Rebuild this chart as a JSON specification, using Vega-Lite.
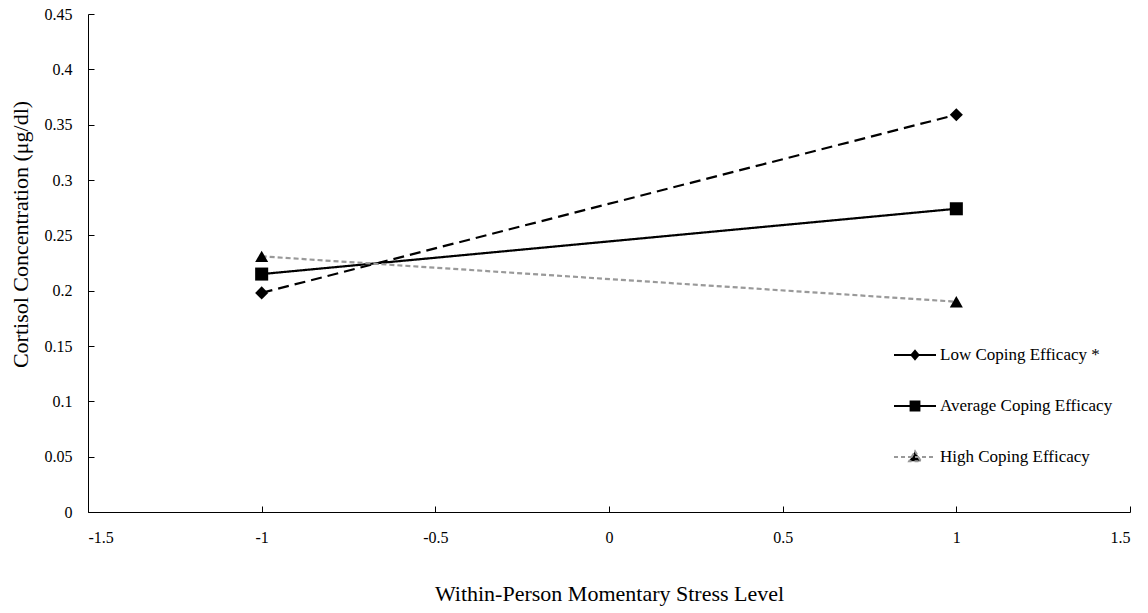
{
  "$schema": "https://vega.github.io/schema/vega-lite/v6.json",
  "autosize": {"type": "none"},
  "width": 1042,
  "height": 498,
  "padding": {"left": 88, "top": 14, "right": 18, "bottom": 101},
  "background": "white",
  "config": {
    "view": {"stroke": null},
    "font": "Liberation Serif",
    "axis": {"grid": false, "domainColor": "#000", "tickColor": "#000", "labelColor": "#000", "titleColor": "#000", "labelFont": "Liberation Serif", "titleFont": "Liberation Serif", "labelFontSize": 16, "titleFontSize": 22, "titleFontWeight": "normal", "tickSize": -6, "domainWidth": 1, "tickWidth": 1}
  },
  "data": {
    "values": [
      {"series": "Low Coping Efficacy *", "x": -1, "y": 0.198},
      {"series": "Low Coping Efficacy *", "x": 1, "y": 0.359},
      {"series": "Average Coping Efficacy", "x": -1, "y": 0.215},
      {"series": "Average Coping Efficacy", "x": 1, "y": 0.274},
      {"series": "High Coping Efficacy", "x": -1, "y": 0.231},
      {"series": "High Coping Efficacy", "x": 1, "y": 0.19}
    ]
  },
  "encoding": {
    "x": {"field": "x", "type": "quantitative", "scale": {"domain": [-1.5, 1.5], "nice": false, "zero": false},
      "axis": {"values": [-1.5, -1, -0.5, 0, 0.5, 1, 1.5], "labelExpr": "datum.value + ''", "labelPadding": 23, "title": "Within-Person  Momentary  Stress Level", "titlePadding": 38}},
    "y": {"field": "y", "type": "quantitative", "scale": {"domain": [0, 0.45], "nice": false},
      "axis": {"values": [0, 0.05, 0.1, 0.15, 0.2, 0.25, 0.3, 0.35, 0.4, 0.45], "labelExpr": "datum.value + ''", "labelPadding": 22, "title": "Cortisol Concentration (μg/dl)", "titleX": -68, "titleY": 220, "titleBaseline": "middle", "titleAlign": "center", "titleAngle": -90}}
  },
  "resolve": {
    "scale": {"shape": "independent", "strokeDash": "independent"},
    "legend": {"shape": "independent", "stroke": "independent", "strokeDash": "independent"}
  },
  "layer": [
    {
      "mark": {"type": "line", "strokeWidth": 2.2},
      "encoding": {
        "detail": {"field": "series"},
        "stroke": {"field": "series", "type": "nominal", "scale": {"domain": ["Low Coping Efficacy *", "Average Coping Efficacy", "High Coping Efficacy"], "range": ["#000000", "#000000", "#999999"]}, "legend": null},
        "strokeDash": {"field": "series", "type": "nominal", "scale": {"domain": ["Low Coping Efficacy *", "Average Coping Efficacy", "High Coping Efficacy"], "range": [[11, 6], [1, 0], [5, 3]]}, "legend": null}
      }
    },
    {
      "mark": {"type": "point", "filled": true, "opacity": 1, "fill": "#000", "stroke": null, "size": 170},
      "encoding": {
        "shape": {"field": "series", "type": "nominal",
          "scale": {"domain": ["Low Coping Efficacy *", "Average Coping Efficacy", "High Coping Efficacy"], "range": ["diamond", "square", "triangle-up"]},
          "legend": null}
      }
    },
    {
      "transform": [{"filter": "datum.x > 100"}],
      "mark": {"type": "point", "filled": true, "opacity": 1, "fill": "#000", "strokeWidth": 2},
      "encoding": {
        "shape": {"field": "series", "type": "nominal",
          "scale": {"domain": ["Low Coping Efficacy *", "Average Coping Efficacy", "High Coping Efficacy"],
            "range": ["M-1,0H1M0,-0.2L0.17,0L0,0.2L-0.17,0Z", "M-1,0H1M-0.21,-0.21H0.21V0.21H-0.21Z", "M-1,0H1M0,-0.28L0.28,0.2L-0.28,0.2Z"]},
          "legend": {"title": null, "orient": "none", "legendX": 805, "legendY": 319, "padding": 0, "symbolSize": 1764, "rowPadding": 20, "labelOffset": 3, "symbolOpacity": 1, "symbolStrokeWidth": 2, "symbolFillColor": "#000000", "labelFont": "Liberation Serif", "labelFontSize": 17, "labelColor": "#000", "labelLimit": 300}},
        "stroke": {"field": "series", "type": "nominal",
          "scale": {"domain": ["Low Coping Efficacy *", "Average Coping Efficacy", "High Coping Efficacy"], "range": ["#000000", "#000000", "#999999"]},
          "legend": {"title": null, "orient": "none", "legendX": 805, "legendY": 319, "padding": 0, "symbolSize": 1764, "rowPadding": 20, "labelOffset": 3, "symbolOpacity": 1, "symbolStrokeWidth": 2, "symbolFillColor": "#000000", "labelFont": "Liberation Serif", "labelFontSize": 17, "labelColor": "#000", "labelLimit": 300}},
        "strokeDash": {"field": "series", "type": "nominal",
          "scale": {"domain": ["Low Coping Efficacy *", "Average Coping Efficacy", "High Coping Efficacy"], "range": [[1, 0], [1, 0], [4, 3]]},
          "legend": {"title": null, "orient": "none", "legendX": 805, "legendY": 319, "padding": 0, "symbolSize": 1764, "rowPadding": 20, "labelOffset": 3, "symbolOpacity": 1, "symbolStrokeWidth": 2, "symbolFillColor": "#000000", "labelFont": "Liberation Serif", "labelFontSize": 17, "labelColor": "#000", "labelLimit": 300}}
      }
    }
  ]
}
